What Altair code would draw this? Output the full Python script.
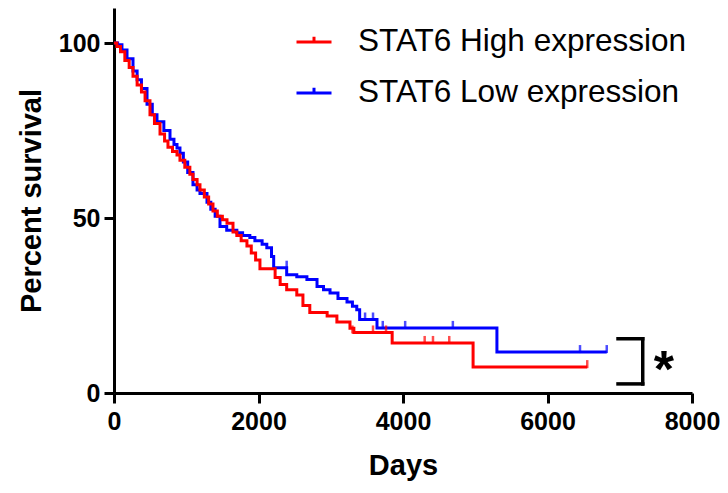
import altair as alt
import pandas as pd

# ---- data (Kaplan-Meier steps) ----
groups = ["STAT6 High expression", "STAT6 Low expression"]
colors = ["#FF0000", "#0000FF"]

high_days = [0, 40, 90, 150, 210, 263, 320, 380, 430, 498, 560, 637, 700, 747, 810, 872,
             913, 980, 1050, 1093, 1150, 1190, 1250, 1310, 1370, 1430, 1500, 1564, 1647,
             1700, 1760, 1840, 1900, 1960, 2020, 2230, 2300, 2390, 2530, 2615, 2710, 2950,
             3085, 3266, 3320, 3850, 4970, 6550]
high_pct = [100, 99, 97.5, 95, 93, 90.5, 88, 86, 83.5, 79.5, 77, 74, 72, 70.2, 69, 68,
            66.5, 64.5, 62.5, 61, 59.5, 58, 56, 54, 52, 50.5, 49.5, 48.5, 46,
            45, 43.5, 42, 40, 38, 35.5, 33, 31, 29.5, 28, 25, 23, 22,
            20.3, 18.5, 17.3, 14.3, 7.4, 7.4]

low_days = [0, 50, 110, 180, 263, 320, 380, 457, 530, 595, 690, 775, 830, 872, 913, 960,
            1020, 1093, 1150, 1190, 1287, 1340, 1400, 1467, 1560, 1700, 1780, 1880, 1950,
            2050, 2115, 2180, 2210, 2390, 2530, 2670, 2810, 2900, 2990, 3100, 3225, 3300,
            3360, 3400, 3640, 5300, 6820]
low_pct = [100, 99.5, 98, 95.5, 92, 89.5, 87, 82.5, 79.5, 77.5, 75, 72.5, 71, 70, 68.5, 66,
           63, 59.5, 58, 57, 54.5, 52.5, 50.5, 47.6, 46.5, 45.8, 45, 44.4, 43.5,
           42.5, 41.5, 39, 35.8, 33.8, 33.2, 32.4, 30.4, 29.5, 28.6, 27, 26, 24.8,
           23.8, 21, 18.6, 11.7, 11.7]

high_censor_days = [3300, 3585, 3765, 4300, 4415, 4640, 6550]
high_censor_pct = [17.3, 17.3, 17.3, 14.3, 14.3, 14.3, 7.4]
low_censor_days = [2390, 3475, 3585, 3720, 4030, 4690, 6450, 6820]
low_censor_pct = [35.8, 21, 21, 18.6, 18.6, 18.6, 11.7, 11.7]

x_ticks = [0, 2000, 4000, 6000, 8000]
y_ticks = [0, 50, 100]

# significance bracket annotation
bracket_x1 = [6976, 6976, 7318]
bracket_x2 = [7318, 7318, 7318]
bracket_y1 = [15.5, 2.6, 2.6]
bracket_y2 = [15.5, 2.6, 15.5]
star_day = [7612]
star_pct = [1.6]

FONT = "Liberation Sans"

high_df = pd.DataFrame({"day": high_days, "pct": high_pct, "group": groups[0]})
low_df = pd.DataFrame({"day": low_days, "pct": low_pct, "group": groups[1]})
high_c = pd.DataFrame({"day": high_censor_days, "pct": high_censor_pct})
low_c = pd.DataFrame({"day": low_censor_days, "pct": low_censor_pct})
bracket_df = pd.DataFrame({"x": bracket_x1, "x2": bracket_x2, "y": bracket_y1, "y2": bracket_y2})
star_df = pd.DataFrame({"day": star_day, "pct": star_pct})

xscale = alt.Scale(domain=[0, 8000], nice=False)
yscale = alt.Scale(domain=[0, 110], nice=False)
xaxis = alt.Axis(values=x_ticks, title="Days", format="d", labelFlush=False,
                 labelPadding=6, titlePadding=17)
yaxis = alt.Axis(values=y_ticks, title="Percent survival", format="d",
                 labelPadding=4, titlePadding=12)

legend = alt.Legend(orient="none", legendX=181, legendY=15, title=None,
                    symbolType="M-1,0H1M0,0V-0.3", symbolSize=1225,
                    symbolStrokeWidth=3, symbolFillColor="transparent",
                    labelFontSize=31.5, labelFont=FONT, labelColor="black",
                    labelOffset=25, rowPadding=16, padding=0, labelLimit=0)
color = alt.Color("group:N", scale=alt.Scale(domain=groups, range=colors), legend=legend)


def curve(df):
    return alt.Chart(df).mark_line(interpolate="step-after", strokeWidth=3).encode(
        x=alt.X("day:Q", scale=xscale, axis=xaxis),
        y=alt.Y("pct:Q", scale=yscale, axis=yaxis),
        color=color,
    )


def ticks(df, c):
    return alt.Chart(df).mark_tick(orient="vertical", size=8, thickness=2.5,
                                   yOffset=-3, color=c).encode(
        x=alt.X("day:Q", scale=xscale),
        y=alt.Y("pct:Q", scale=yscale),
    )


bracket = alt.Chart(bracket_df).mark_rule(color="black", strokeWidth=3.5,
                                           strokeCap="square").encode(
    x=alt.X("x:Q", scale=xscale), x2="x2:Q",
    y=alt.Y("y:Q", scale=yscale), y2="y2:Q",
)

star = alt.Chart(star_df).mark_text(text="*", font=FONT, fontSize=52, fontWeight="bold",
                                    color="black", align="center",
                                    baseline="alphabetic").encode(
    x=alt.X("day:Q", scale=xscale),
    y=alt.Y("pct:Q", scale=yscale),
)

chart = alt.layer(
    curve(low_df), ticks(low_c, colors[1]),
    curve(high_df), ticks(high_c, colors[0]),
    bracket, star,
).properties(
    width=578, height=385,
    padding={"left": 106, "top": 0, "right": 28, "bottom": 90},
    autosize=alt.AutoSizeParams(type="none"),
).configure_view(stroke=None).configure_axis(
    grid=False,
    domainColor="black", domainWidth=3,
    tickColor="black", tickWidth=3, tickSize=10,
    labelFont=FONT, labelFontSize=25, labelFontWeight="bold", labelColor="black",
    titleFont=FONT, titleFontSize=29, titleFontWeight="bold", titleColor="black",
)

chart.save("out.html", embed_options={"renderer": "svg", "actions": False})
